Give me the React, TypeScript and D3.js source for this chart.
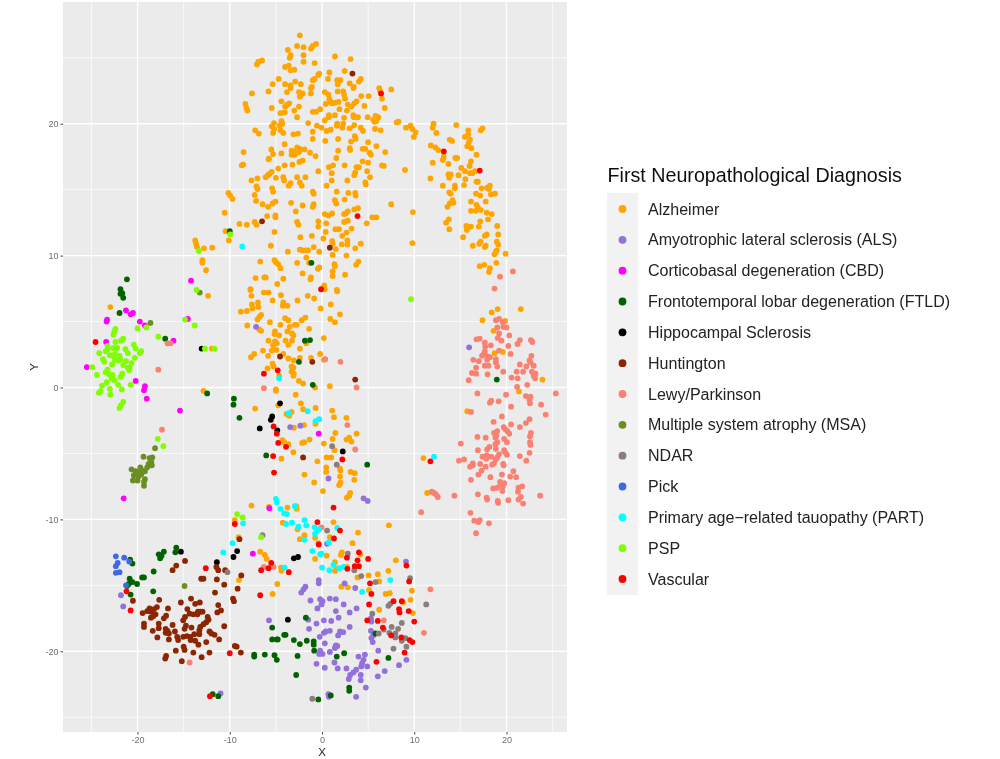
import { useEffect, useRef } from "react"
import * as d3 from "d3"

type Pt = [number, number]

const WIDTH = 1000
const HEIGHT = 759
const MARGIN = { top: 2, right: 433, bottom: 27, left: 63 }

const xTicks = [-20, -10, 0, 10, 20]
const yTicks = [-20, -10, 0, 10, 20]
const xMinor = [-25, -15, -5, 5, 15, 25]
const yMinor = [-25, -15, -5, 5, 15, 25]

const alzheimer: Pt[] = [
  [-2.4,26.7],[-2.7,25.9],[-2,25.8],[-1.2,25.7],[-1,25.9],[-0.65,26.05],[-3.7,25.6],[-3.4,25.2],[-3.5,25],[-2,25.2],[-2,24.7],[1.4,25.1],[3.1,24.9],
  [-6.5,24.8],[-6.9,24.7],[-7.05,24.5],[-0.8,24.6],[-4,24.3],[-3.6,24.4],[-3,24.1],[-3.4,24.05],[-0.3,23.8],[-0.4,23.7],[0.8,23.9],[2.45,24],[4.2,23.4],
  [-4.7,23.4],[-5.35,23],[-4,23],[-2.9,23.2],[-2.3,23],[-0.8,23.4],[-1,23.3],[0.65,23.4],[1.65,23.3],[2,23.3],[1.7,23],[3,23.05],[4,23.2],[3.45,22.8],[3.4,22.7],
  [-3.4,22.9],[-3.4,22.7],[-1.1,22.8],[-1.2,22.7],[-5.8,22.45],[-7.6,22.3],[-3.8,22.4],[-2.5,22.4],[-2.1,22.3],[-2.3,22.2],[-2.4,22.05],[-1.2,22.3],[0.3,22.4],[0.7,22.2],
  [1.7,22.45],[2.3,22.45],[2.4,22.2],[2.5,21.9],[4.25,22.1],[5.05,22.1],[6.2,22.7],[6.3,22.5],[6.5,21.9],[7.5,22.6],[-4.4,21.7],[0.8,21.85],[0.9,21.65],[0.4,21.5],
  [1.1,21.55],[1.4,21.6],[1.8,21.65],[3.75,21.7],[3.5,21.55],[2.8,21.45],[3.2,21.3],[4.6,21.35],[-3.55,21.55],[-3.8,21.45],[-4,21.3],[-2.5,21.3],[-8.3,21.5],[-8.2,21.2],[-8.1,21],
  [-5.45,21.2],[-3,21],[-1,20.9],[-0.65,20.9],[-0.2,21.1],[1.9,21.1],[2.7,21],[6.8,21.2],[-4.5,20.8],[-4.05,20.85],[-2.7,20.5],[0.75,20.65],[0.7,20.5],[1.4,20.65],[0.3,20.25],
  [2.4,20.45],[3.4,20.65],[3.45,20.5],[3.9,20.5],[4.95,20.5],[6.1,20.5],[5.8,20.6],[5.55,20.3],[5.9,20.2],[5.7,20.15],[8.1,20.1],[8.3,20.15],[-5.2,20.05],[-4.4,20.2],[-4.3,20],
  [-5.45,19.8],[-4.6,19.85],[-5.2,19.6],[-5.3,19.3],[-4.5,19.5],[-4.2,19.3],[-1.5,20.05],[-0.55,19.85],[-0.05,19.7],[0.5,19.45],[0.95,19.55],[1.65,20],[2.3,20],[2.2,19.7],[1.6,19.85],
  [3.5,19.9],[3,19.65],[4.2,19.7],[4.45,19.45],[5.75,19.6],[6.35,19.5],[9.1,19.7],[9.6,19.85],[9.8,19.6],[10.15,19.35],[9.95,19],[12.1,20],[12,19.7],[12.4,19.3],[14.55,19.9],
  [17.4,19.65],[17.2,19.5],[15.85,19.5],[15.85,19.2],[15.5,19],[16.05,18.8],[15.9,18.55],[15.75,18.3],[16.2,18.15],[13.85,18.8],[14.1,18.7],[11.8,18.35],[12.3,18.2],[12.6,18],
  [16.75,17.65],[-7.25,19.5],[-6.85,19.25],[-3.1,19.2],[-2.6,19.25],[-1,19.4],[-1,18.85],[0.35,18.7],[1.75,18.85],[3.55,19.05],[3.65,18.85],[3.15,18.65],[5,18.6],[-4.05,18.45],[5.9,18.3],
  [-5.5,18.05],[-8.5,17.85],[-5.3,17.7],[-4.4,17.75],[-3.3,17.95],[-2.7,18.2],[-2.4,18.1],[-1.9,18.05],[-2.75,17.95],[-3.3,17.65],[-2.95,17.65],[-2.5,17.85],[-1.3,17.8],[-0.7,17.55],
  [1.75,17.95],[3,18.15],[3.05,18],[4.4,18.1],[4.7,18.1],[5.15,17.8],[5.3,17.65],[6.85,17.85],[1.55,17.4],[-5.75,17.35],[-5.8,17.3],[13.2,17.5],[13.1,17.25],[14.45,17.4],[14.65,17.4],
  [16.15,17.15],[12,17.05],[13.7,16.95],[-2.45,17.1],[-2.1,17.2],[-3.2,16.9],[-4.05,16.85],[-4.75,16.6],[-8.55,16.9],[-8.7,16.85],[0.75,16.7],[1.2,16.85],[2.45,16.85],[4.4,17.15],[5,17.05],
  [3.75,16.7],[4,16.7],[4.9,16.4],[6.5,16.85],[6.7,16.8],[9,16.5],[15.1,16.65],[15.5,16.4],[16.05,16.25],[16.3,16.25],[16.6,16.4],[16,16.8],[-0.4,16.4],[1.05,16.25],[3.6,16.3],[3.5,16.1],
  [5.2,15.95],[-5.45,16.35],[-5.7,16.2],[-5.85,16.1],[-6.1,15.95],[-7,15.85],[-7.65,15.7],[-5,15.9],[-4.2,15.95],[-4.1,15.7],[-2.7,15.95],[-1.8,15.95],[1.05,15.7],[2.75,15.7],[-2.4,15.55],[-2.2,15.3],
  [-3.4,15.5],[-3.6,15.3],[0.5,15.3],[4.7,15.55],[4.75,15.4],[11.75,15.85],[13.7,16.15],[13.95,16.15],[13.8,15.9],[14.8,16.1],[15.55,15.8],[15.4,15.35],[13.1,15.3],[14.4,15.3],[14.4,15.1],
  [16.75,15.6],[16.9,15.6],[17.3,15.1],[17.9,15.15],[18.2,15.3],[18.1,15.05],[-7.1,15.25],[-7,15.05],[-5.4,15.1],[-5.3,14.85],[-10.15,14.75],[-9.95,14.55],[-9.7,14.3],[-7.3,14.6],[-7.15,14.15],
  [-6.45,13.9],[-5.85,13.7],[-5.35,13.95],[-5.05,14.1],[-3.35,14],[-2.1,13.8],[-1,14.85],[-0.9,14.7],[1.6,14.85],[2.85,14.75],[3.6,14.75],[3.65,14.55],[2.45,14.25],[1.4,14.2],[1.55,13.95],
  [-0.9,13.9],[-1,13.7],[7.5,13.9],[13.8,14.8],[13.95,14.7],[16.7,14.7],[17.15,14.55],[18.3,14.65],[18.75,14.7],[17.75,14.1],[16.15,14.1],[14.15,14.2],[14.25,14],[13.85,13.95],[13.6,13.7],
  [16.75,13.85],[16.9,13.65],[16.15,13.4],[16.65,13.4],[17.2,13.45],[17.85,13.25],[18.4,13.15],[18,12.75],[-10.55,13.25],[-2.85,13.35],[-5.95,13],[-5.05,13.05],[-5.05,12.9],[-2.7,12.55],[-2.55,12.35],
  [-0.4,12.6],[-0.4,12.2],[0.3,13.15],[0.7,13.05],[1.1,13.2],[0.45,12.45],[2.4,13.15],[2.8,13.35],[2.55,13.2],[3.5,13.5],[3.9,13.6],[2.4,12.55],[2.8,12.65],[5.45,12.9],[5.9,12.9],[4.85,12.45],
  [9.85,13.3],[-8.95,12.4],[-8.15,12.35],[-7.3,12.55],[-7.1,12.35],[-10.45,11.85],[-10.1,11.15],[-5.15,11.8],[-2.35,11.4],[-1.1,11.5],[0.15,11.3],[0.4,11.8],[1.45,12],[1.85,12],[3.2,12.05],
  [2.65,11.75],[2.2,11.5],[1.1,11.1],[1.15,10.9],[2.75,11.15],[2.75,10.85],[2.15,10.85],[4.2,10.9],[3.6,10.55],[1.5,10.5],[-5.55,10.75],[-3.7,10.3],[-2.4,10.45],[-2.1,10.4],[-1.75,10.4],[-1.5,10.4],
  [-0.9,10.65],[-0.3,10.3],[1.15,10.05],[2.65,10],[-1.7,9.85],[-6.7,9.55],[-5.15,9.65],[-5,9.5],[-4.75,9.35],[-4.5,9.05],[-2.7,9.45],[-1.4,9.45],[1.35,9.35],[1.4,9.2],[1.15,8.8],[1.15,8.45],
  [3.95,9.55],[3.7,9.3],[-0.3,9.1],[-0.45,9],[-2.1,8.65],[-1.2,8.35],[-1.25,8.2],[2.5,8.55],[-7.2,8.3],[-6.25,8.35],[-6.1,8.35],[-4.2,8.25],[-4.85,7.85],[-7.75,7.45],[0.25,7.75],[1.6,7.4],
  [9.8,10.95],[13.8,12],[13.75,12.75],[13.45,12.5],[15.65,12.25],[15.85,12.15],[16.15,12.2],[15.7,11.95],[17.15,12.6],[17,12.2],[19,12.25],[19.1,11.6],[17.85,11.6],[17.65,11.5],[15.3,11.4],
  [17.2,11.05],[17.05,10.9],[16.35,10.75],[17.75,10.75],[17.65,10.65],[18.95,11.05],[19.1,10.85],[18.95,10.4],[18.7,10.1],[18.85,10.3],[19.9,10.15],[18.9,9.45],[17.1,9.2],[17.6,9.3],[18.2,9.05],[18.1,8.75],
  [-13.75,11.15],[-13.65,10.9],[-13.55,10.65],[-12.8,10.55],[-11.9,10.6],[-12.97,9.65],[-12.97,9.45],[-12.57,8.9],[-12.35,6.95],[-22.95,6.1],[-11.95,2.95],[-12.85,-0.25],
  [-7.75,7.4],[-7.65,6.95],[-7.6,6.3],[-7.55,6],[-6.95,6.45],[-6.9,6.1],[-8.8,5.75],[-8.15,5.8],[-6.6,5.5],[-6.8,5.35],[-7,5.15],[-8.1,4.7],[-6.8,4.4],[-6.6,4.3],[-6.3,7.2],[-5.8,7.2],[-5.35,6.6],[-4.45,7],
  [-4.2,6.45],[-4.25,6.2],[-3.75,6.2],[-2.65,6.6],[-1.55,6.95],[-0.85,6.75],[0.3,7.45],[1.65,7.3],[0.95,6.3],[-0.15,6],[1.95,5.55],[0.9,5.2],[1.4,4.95],[-5.65,4.95],[-4,5.25],[-3.65,5.1],[-4.5,4.75],
  [-3.5,4.6],[-2.95,4.75],[-2.75,4.75],[-2.2,5.1],[-1.8,5.3],[-1.4,4.45],[-5.1,4.25],[-5.15,4.05],[-4.65,3.95],[-3.75,4.25],[-3.25,4.1],[-3.1,3.95],[-5.8,3.55],[-5.1,3.5],[-4.9,3.35],[-5.3,3.2],
  [-3.95,3.55],[-3.65,3.25],[-3.25,3.55],[0.2,3.75],[-1.7,3.35],[-2.4,2.95],[-6.4,2.8],[-5.45,2.8],[-4.95,2.85],[-4.2,2.55],[-7.35,2.55],[-7.7,2.3],[-5.85,2.4],[-3.65,2.2],[-3.05,2.05],[-2.4,2.25],
  [-1.2,2.25],[-0.2,2.55],[0.2,2.1],[-5.35,1.8],[-5.25,1.6],[-5.9,1.45],[-3.3,1.6],[-3.1,1.5],[-3.3,1.2],[-3.05,1.05],[-3.1,0.9],[-4.65,0.9],[-2.5,0.5],[-2.05,0.3],[-0.75,0],[0.85,0.1],[-5,-0.15],[-5,-0.25],
  [-2.85,-0.55],[-2.3,-1.2],[-4.75,-1.35],[-7.25,-1.6],[-2.05,-1.65],[-0.7,-1.55],[1.1,-1.75],[1.3,-2.25],[2.65,-2.3],[-3.85,-2],[-3.3,-1.85],[-3.55,-2.15],[-3.05,-3.05],[-1.95,-2.85],[-0.7,-2.75],
  [1.45,-3.45],[3.75,-3.5],[2.65,-3.95],[2.95,-3.8],[3.2,-4.1],[-1.35,-3.95],[-1.95,-4.15],[-2.15,-4.2],[1.15,-3.9],[0.2,-4.25],[-4.3,-4],[-4.1,-4.15],[-3.65,-4.3],[1.35,-4.75],[-3.1,-4.9],[0.5,-5.3],[1,-5.3],
  [-4.4,-5.4],[-0.5,-5.6],[0.45,-6.05],[0.45,-6.4],[1.95,-6.15],[2,-6.3],[3.1,-6.4],[3.55,-6.5],[-1.9,-6.6],[1.95,-6.75],[3.5,-7],[-0.85,-7.2],[2,-7.2],[1.85,-7.4],[0.1,-7.85],[3.05,-8],[2.95,-8.2],[2.7,-8.35],
  [-7.65,-8.95],[-5.75,-9.05],[-3.75,-9.1],[-2.8,-9],[-2.75,-9.2],[-9.45,-10.05],[-4.25,-10.25],[-2.65,-10.75],[-1.9,-11.2],[-2.4,-11.5],[-0.75,-11.4],[-0.4,-11.8],[1.25,-10.2],[0.85,-11.35],[3.9,-11],[3.3,-11.8],
  [7.25,-10.45],[-9.05,-11.35],[-6.7,-12.45],[-6.2,-12.7],[-6,-13],[-4.45,-13.65],[-4.4,-13.9],[-0.75,-13],[0.5,-12.75],[2.15,-12.5],[2.05,-12.7],[4.15,-12.65],[1.4,-13.25],[1.6,-13.75],[1.4,-13.9],[2.7,-13.6],
  [8,-13.1],[7.2,-13.9],[5.05,-14.25],[6.05,-14.15],[3.85,-14.4],[6.2,-14.7],[2.1,-15.1],[2.8,-15.15],[5.1,-15.35],[6.9,-15.65],[7.35,-15.6],[9.75,-15.4],[9.6,-16.1],[8.8,-16.3],[6.2,-16.85],[9.85,-17.1],
  [-4.85,-14.9],[-5.35,-15.65],[-9,-14.6],
  [19.05,5.95],[18.4,5.7],[21.55,5.95],[17.4,5.1],[19.85,5.05],[18.6,4.3],[18.7,2.6],[19.6,2.7],[23.9,0.6],[21.35,-0.3],[15.75,-1.8],[11,-5.35],[11.4,-8],
]

const als: Pt[] = [
  [9.1,-13.2],[2.45,-14.85],[3.6,-15.2],[-0.35,-14.6],[-0.35,-14.85],[-1.8,-15.1],[-2,-15.3],[-2.25,-15.55],[-1.25,-16.15],[-0.2,-16.05],[0.05,-16.2],[-0.05,-16.45],[0.85,-16],[1.5,-16.05],[2.35,-16.45],
  [-0.5,-16.75],[1.5,-16.95],[3,-17.05],[3.75,-16.75],[1.8,-17.45],[1,-17.7],[0.2,-17.65],[-1.5,-17.6],[-5.75,-17.65],[-0.6,-17.9],[5.3,-17.5],[5.35,-17.75],[3,-18.15],[-1.4,-18.3],[0.85,-18.45],[0.4,-18.5],
  [0.2,-18.6],[1.95,-18.5],[2.3,-18.55],[1.75,-18.8],[-0.25,-18.9],[5.3,-18.45],[5.55,-18.8],[5.35,-19],[5.5,-19.3],[0.3,-19.4],[1.5,-19.55],[1.4,-19.75],[1.65,-19.6],[0.85,-20.05],[-0.2,-19.95],[-0.3,-20.2],
  [0.05,-20.2],[6.1,-19.95],[3.95,-20.4],[4.65,-20.25],[4.5,-20.65],[4.35,-20.9],[4.25,-21.15],[4.9,-21.15],[1.35,-20.85],[-0.6,-20.95],[0.3,-21.25],[1.7,-21.3],[2.65,-21.3],[9.15,-20.65],[8.35,-21.05],[6.8,-21.5],
  [3.7,-21.4],[3.4,-21.6],[3.05,-21.8],[4.2,-21.8],[2.9,-22.1],[6.05,-21.9],[4.2,-22.2],[4.75,-22.75],[0.7,-23.25],[0.75,-23.45],[3.7,-23.45],[-11,-23.2],[0.55,-11.85],
  [-7.15,4.6],[-3.45,-3],[-2.35,-2.9],[0.7,-6.9],[4.5,-8.4],[4.95,-8.6],[15.95,3.05],[-21.8,-15.75],[-21.55,-16.6],
]

const cbd: Pt[] = [
  [-14.2,8.1],[-14.55,5.2],[-21.25,5.85],[-20.75,5.55],[-20.5,5.65],[-23.3,5.15],[-23.35,5],[-19.75,5],[-19.2,4.7],[-23.4,3.45],[-16.1,3.55],[-25.5,1.55],[-20.2,0.5],[-19.2,0.1],[-19.3,-0.2],[-19,-0.85],
  [-15.4,-1.75],[-21.5,-8.4],[-7.5,-12.6],[-5.7,-9.15],[-0.35,-3.5],
]

const ftld: Pt[] = [
  [-21.15,8.2],[-21.85,7.45],[-21.65,7.15],[-21.85,7.1],[-21.55,6.8],[-21.95,5.65],[-17,3.7],[-12.45,-0.45],[-9.55,-0.85],[-9.6,-1.3],[-8.95,-2.3],[-10,11.85],[-1.15,9.45],[-1.85,3.55],[-1.3,3.6],[-2.5,1.95],[-1,0.2],
  [-6.05,-5.15],[4.9,-5.85],[18.95,0.6],[-15.8,-12.15],[-15.9,-12.5],[-17.7,-12.65],[-17.15,-12.45],[-17.55,-12.95],[-17.4,-12.75],[-20.8,-13.05],[-20.55,-13.35],[-18.25,-13.95],[-19.5,-14.4],[-19.3,-14.4],
  [-20.85,-14.5],[-20.55,-14.75],[-20.95,-14.9],[-21.15,-15.05],[-20.05,-14.9],[-18.3,-15.45],[-20.75,-15.7],[-11.85,-23.25],[-11.25,-23.4],[-1.75,-17.45],[-5.4,-18.2],[-5.4,-19.1],[-4.9,-19.1],[-4.8,-19.1],
  [-4.1,-18.75],[-3.95,-18.75],[-3.05,-19.15],[-2.4,-19.45],[-1.65,-19.2],[-0.9,-19.25],[-0.9,-19.5],[-0.85,-19.95],[-7.35,-20.25],[-7.35,-20.4],[-6.2,-20.25],[-5.15,-20.3],[-4.9,-20.65],[-2.65,-20.35],[-2.8,-21.8],
  [1.6,-20.4],[2.4,-20.15],[7.2,-20.5],[2.95,-22.75],[2.95,-23],[-0.4,-23.65],[0.95,-23.35],[5.8,-18.65],
]

const hippocampal: Pt[] = [
  [-13.05,2.95],[-4.55,-1.2],[-5.4,-2.2],[-5.55,-2.45],[-6.75,-3.1],[-4.85,-3.25],[2.25,-4.85],[-9.6,-12.85],[-9.2,-12.4],[-3.05,-12.95],[-2.6,-12.85],[-3.7,-17.6],[-15.3,-12.45],[-11.4,-13.25],
]

const huntington: Pt[] = [
  [3.3,23.8],[-6.5,12.6],[0.85,10.6],[-4.55,2.35],[-1.05,1.95],[3.6,0.6],[-2.05,-5.3],[-8.95,-11.5],
  [-14.85,-13.15],[-15.8,-13.5],[-16.2,-13.85],[-20.5,-16.17],[-17.65,-16.1],[-11.45,-13.6],[-11.25,-13.85],[-10.5,-13.85],[-8.75,-14.25],[-13.1,-14.5],[-12.85,-14.5],[-11.4,-14.55],[-10.6,-14.95],[-9.15,-15.25],
  [-11.6,-15.55],[-9.65,-16],[-9.55,-16.2],[-14.2,-16],[-13.25,-16.3],[-13.75,-16.4],[-15.3,-16.3],[-11.25,-16.5],[-10.95,-16.9],[-11.35,-17.05],[-17.9,-16.65],[-18.2,-16.8],[-18.7,-16.75],[-18.95,-16.95],
  [-19.45,-17.1],[-18.55,-17],[-18.05,-17.2],[-18.55,-17.45],[-18.3,-17.35],[-16.7,-16.75],[-14.6,-16.8],[-14.35,-17.15],[-13.95,-17.2],[-13.5,-17.2],[-13.2,-17],[-12.95,-17],[-13.45,-17],[-16.9,-17.3],[-17.15,-17.5],
  [-14.85,-17.4],[-15.05,-17.65],[-12.4,-17.4],[-12.3,-17.6],[-12.55,-17.8],[-19.3,-17.9],[-19.3,-18.15],[-17.7,-17.9],[-17.7,-18.25],[-16.2,-18],[-14.75,-18.05],[-14.9,-18.3],[-14.15,-18.2],[-12.85,-17.95],[-13.2,-18.15],
  [-13.3,-18.4],[-10.6,-18.1],[-18.35,-18.45],[-16.95,-18.3],[-16.75,-18.45],[-16.95,-18.6],[-16.6,-18.65],[-15.95,-18.5],[-15.05,-18.9],[-14.65,-18.85],[-14.25,-18.9],[-13.85,-18.7],[-13.3,-18.7],[-12.2,-18.5],
  [-12,-18.65],[-11.65,-18.75],[-17.85,-18.95],[-16.6,-19.1],[-15.7,-18.9],[-15.6,-19.15],[-14.25,-19.15],[-13.75,-19.2],[-13.4,-19.5],[-12.55,-19.3],[-11.15,-19.1],[-15,-19.65],[-14.9,-19.9],[-15.85,-19.95],
  [-13.95,-20.1],[-12.2,-20.1],[-16.9,-20.35],[-17,-20.55],[-15.2,-20.75],[-13.05,-20.45],[-9.45,-19.6],[-9.25,-19.65],[-8.8,-20.1],
]

const lewy: Pt[] = [
  [19.3,8.4],[20.7,8.8],[18.7,7.5],[18.85,5.1],[19.2,5.2],[19.6,4.95],[19.65,4.6],[20,4.55],[19,4.55],[19.2,4.1],[20.3,3.95],[19.05,3.75],[19.45,3.55],[16.75,3.65],[17.1,3.7],[17.65,3.4],[17.7,3.1],[18.3,3.2],
  [20.2,3.15],[21.2,3.3],[21.45,3.6],[22.65,3.6],[22.8,3.45],[19.2,2.8],[20.45,2.55],[17.65,2.75],[17.5,2.5],[17.35,2.4],[17.95,2.35],[18.2,2.3],[17.9,2.1],[18.85,2.15],[18.85,1.9],[16.4,2.1],[17,2],
  [22.7,2.4],[22.5,2.05],[22.6,1.9],[22.95,1.65],[21.45,1.75],[22.15,1.6],[17.65,1.65],[18.05,1.65],[19,1.6],[16.7,1.5],[19.65,1.2],[21.1,1.2],[21.8,1.2],[22.75,1.2],[23.15,1.05],[22.95,0.9],[23.1,0.7],
  [16.25,1.1],[16.7,1.05],[17.95,1],[20.55,0.75],[21.2,0.7],[15.9,0.55],[22.25,0.2],[21.15,0.05],[16.85,-0.45],[19.95,-0.55],[22.1,-0.65],[22.6,-0.7],[22.5,-0.95],[22.55,-1.2],[25.35,-0.45],[18.35,-1],[18.2,-1.15],[19.15,-1.05],
  [23.75,-1.3],[20.5,-1.45],[16.15,-1.85],[24.25,-2.05],[19.5,-2.2],[22.5,-2.4],[18.6,-2.6],[22.1,-2.7],[20.5,-2.8],[21.45,-3],[19.7,-3],[19.85,-3.15],[20.1,-3.3],[20.3,-3.5],[19,-3.3],[18.65,-3.45],[18.9,-3.65],[18.8,-3.8],
  [22.65,-3.45],[22.55,-3.7],[16.85,-3.75],[17.75,-3.8],[19.75,-3.9],[20.05,-4.15],[15.05,-4.25],[19,-4.15],[18.8,-4.3],[22.55,-4.15],[22.6,-4.35],[18.15,-4.5],[17.9,-4.7],[18.85,-4.65],[16.9,-4.75],[19.75,-4.75],[19.85,-4.9],
  [20.05,-5.1],[22.5,-4.95],[21.45,-5.2],[19.2,-5.05],[19,-5.3],[18.85,-5.45],[17.85,-5.15],[17.4,-5.25],[17.8,-5.4],[18.35,-5.25],[14.85,-5.55],[15.4,-5.45],[22.15,-5.55],[16.35,-5.75],[16.05,-6],[16.35,-5.9],[17.15,-5.8],
  [17.75,-6],[18.45,-5.85],[18.65,-5.75],[19.65,-5.8],[19.7,-5.9],[17.3,-6.3],[16.95,-6.6],[20.75,-6.35],[19.5,-6.6],[20.4,-6.75],[21.05,-6.8],[18.25,-6.8],[16.15,-7],[19.3,-7.15],[19.75,-7.25],[19.35,-7.4],[19.6,-7.5],
  [19,-7.6],[18.55,-7.65],[19.55,-7.85],[21.7,-7.5],[21.3,-7.6],[21.25,-7.9],[14.35,-8.2],[16.9,-8.1],[17.85,-8.35],[17.9,-8.5],[19.05,-8.6],[19.1,-8.75],[20.2,-8.55],[21.55,-8.3],[21.3,-8.5],[21.8,-8.8],[23.65,-8.2],
  [11.9,-7.9],[12.15,-8],[12.35,-8.1],[12.55,-8.3],[10.75,-9.45],[16.1,-9.5],[16.5,-10.1],[16.95,-10.2],[17.1,-10.05],[18.1,-10.3],[16.7,-11.05],
  [11.75,-15.3],[11.05,-18.6],[6.7,-17.65],[-0.05,-10.6],[-5.25,-13.6],[-6.3,-13.6],[-14.35,-20.85],[-6.3,-0.05],[0.35,2.15],[2,1.95],[3.75,0],[2.75,-2.85],[3.6,-4.7],[-17.75,1.35],[-17.35,-3.2],[-16.75,3.35],[-16.4,3.35],
]

const msa: Pt[] = [
  [-18.6,4.9],[-13.25,7.2],[-18.1,-4.6],[-19.35,-5.25],[-18.7,-5.35],[-18.4,-5.3],[-18.5,-5.65],[-18.8,-5.8],[-18.45,-5.9],[-18.95,-6.05],[-19.7,-6.05],[-20.65,-6.2],[-19.6,-6.25],[-20.2,-6.35],[-20,-6.5],[-19.2,-6.35],
  [-20.4,-6.65],[-19.6,-6.6],[-19.9,-6.75],[-20.5,-7.05],[-20,-7.05],[-19.2,-6.95],[-19.3,-7.15],[-19.3,-7.45],[-14.9,-15.05],
]

const ndar: Pt[] = [
  [-6.45,-11.2],[0.55,-10.85],[2.8,-12.6],[3.5,-13.85],[4.25,-14.3],[5.8,-14.75],[9.55,-14.45],[7.2,-16.55],[7.4,-16.4],[5.45,-17.15],[11.3,-16.45],[8.65,-17.85],[6.7,-18.35],[7.55,-18.15],[8.25,-18.3],[7.3,-18.6],
  [7.95,-18.65],[6.15,-18.65],[7.95,-18.95],[8.65,-19.2],[9.05,-19],[9.15,-19.65],[7.75,-19.8],[-1.05,-23.6],[-10.25,-14],[1.1,-4.45],[1.6,-5.85],
]

const pick: Pt[] = [
  [-22.35,-12.8],[-21.45,-12.9],[-20.9,-13.2],[-22.15,-13.3],[-22.35,-13.55],[-21.95,-14],[-22.35,-14.05],[-21.25,-15],
]

const part: Pt[] = [
  [-5,-8.45],[-4.9,-8.7],[-4.5,-9.2],[-4.1,-9.55],[-3.8,-9.6],[-2.95,-9],[-3.9,-10.35],[-3.25,-10.25],[-2.55,-10.55],[-1.9,-10.05],[-1.7,-10.45],[-0.8,-10.6],[-0.3,-10.75],[-0.55,-10.85],[-0.75,-11.1],[1.65,-10.65],
  [-1.9,-11.55],[0.75,-11.75],[-1.05,-12.4],[-0.2,-12.65],[-0.05,-12.6],[-8.55,-10.3],[-9.7,-11.8],[-10.7,-12.5],[-4.05,-13.65],[0,-13.65],[0.8,-13.85],[1.85,-13.7],[2.35,-13.6],[1.25,-13.45],[7.4,-14.6],[4.35,-15.5],
  [-4.65,0.7],[-3.6,-1.95],[-1.55,-1.8],[-0.3,-2.4],[-0.7,-2.55],[12.15,-5.25],[-8.65,10.7],
]

const psp: Pt[] = [
  [-22.4,4.45],[-22.5,4.25],[-22.6,4],[-20,4.5],[-19.05,4.55],[-17.75,3.85],[-21.55,3.7],[-21.8,3.55],[-22.4,3.45],[-20.4,3.25],[-20.2,2.95],[-23.25,3.15],[-23.2,2.95],[-22.6,3],[-22.2,3],[-21.3,2.9],[-23.45,2.75],[-24.15,2.6],
  [-21.05,2.6],[-19.6,2.75],[-19.75,2.6],[-23,2.45],[-22.7,2.4],[-22.45,2.55],[-21.95,2.4],[-21.85,2.15],[-20.3,2.25],[-23.75,2.15],[-23.6,1.95],[-22.45,2.1],[-22.05,2.05],[-21.25,2],[-22.75,1.75],[-21.55,1.7],[-20.65,1.85],
  [-20.85,1.5],[-21.05,1.5],[-20.9,1.3],[-24.9,1.55],[-23.25,1.35],[-23.45,1.15],[-21.65,1.05],[-24.4,0.95],[-23.1,1],[-22.7,0.95],[-22.8,0.7],[-21.85,0.8],[-22.5,0.55],[-23.35,0.4],[-22.1,0.2],[-20.75,0.2],[-23.85,0.15],
  [-23,-0.1],[-21.7,-0.15],[-24,-0.25],[-24.2,-0.4],[-22.95,-0.55],[-21.55,-1.1],[-21.8,-1.35],[-21.95,-1.55],[-13.8,4.7],[-14.85,5.15],[-12.7,2.95],[-11.65,2.95],[-13.6,7.4],[-17.8,-3.9],[-17.2,-4.45],[-13.35,10.35],
  [-9.2,-9.6],[-8.6,-9.85],[-6.6,-11.35],[-9.95,11.6],[9.65,6.7],
]

const vascular: Pt[] = [
  [1.25,-9.1],[-0.5,-10.2],[1.95,-10.85],[1.3,-11.45],[-0.35,-11.9],[-9.45,-10.35],[-5.5,-13.3],[-5.8,-13.7],[-6.6,-13.85],[-3.6,-14],[-6.7,-15.75],[4,-12.5],[2.7,-12.9],[3.85,-13.1],[5,-13],[3.55,-13.55],[4,-13.55],[2.75,-13.75],
  [9.15,-13.5],[9.45,-14.7],[5.2,-14.85],[5.35,-15.65],[7.75,-16.2],[8.65,-16.2],[5.1,-16.45],[8.35,-16.8],[8.4,-17.05],[9.4,-16.95],[4.9,-17.65],[6.05,-17.7],[10,-17.75],[6.6,-18.2],[7.5,-18.8],[8.6,-18.95],[9.5,-19.15],
  [9.8,-19.3],[8.95,-20.1],[5.9,-20.8],[-10,-20.15],[-0.1,7.45],[-6.3,1.05],[-4.8,1.3],[-5.25,-2.95],[-4.9,-3.5],[-4.75,-4.2],[-3.9,-4.5],[-5.3,-5.2],[-5.2,-6.45],[2.2,-5.45],[3.85,13],[13.2,17.9],[17.1,16.45],[6.4,22.3],
  [-24.55,3.45],[11.75,-5.6],[-12.6,-13.7],[-21.2,-15.45],[-20.75,-16.9],[-12.15,-23.4],
]

const diagnoses = [
  "Alzheimer",
  "Amyotrophic lateral sclerosis (ALS)",
  "Corticobasal degeneration (CBD)",
  "Frontotemporal lobar degeneration (FTLD)",
  "Hippocampal Sclerosis",
  "Huntington",
  "Lewy/Parkinson",
  "Multiple system atrophy (MSA)",
  "NDAR",
  "Pick",
  "Primary age\u2212related tauopathy (PART)",
  "PSP",
  "Vascular",
]

const colors = ["#ffa500", "#9370db", "#ff00ff", "#006400", "#000000", "#8b2500", "#fa8072", "#6b8e23", "#8b7d7b", "#4169e1", "#00ffff", "#7fff00", "#ff0000"]

const series = [alzheimer, als, cbd, ftld, hippocampal, huntington, lewy, msa, ndar, pick, part, psp, vascular]

export default function App() {
  const svgRef = useRef<SVGSVGElement>(null)

  useEffect(() => {
    if (!svgRef.current) return

    const svg = d3.select(svgRef.current)
    svg.selectAll("*").remove()

    const w = WIDTH - MARGIN.left - MARGIN.right
    const h = HEIGHT - MARGIN.top - MARGIN.bottom

    const soft = svg.append("defs").append("filter").attr("id", "soft")
    soft.append("feGaussianBlur").attr("stdDeviation", 0.4)

    const root = svg.append("g").attr("filter", "url(#soft)")
    root.append("rect").attr("width", WIDTH).attr("height", HEIGHT).attr("fill", "#fff")

    const g = root.append("g").attr("transform", `translate(${MARGIN.left},${MARGIN.top})`)

    const x = d3.scaleLinear().domain([-28.08, 26.56]).range([0, w])
    const y = d3.scaleLinear().domain([-26.12, 29.23]).range([h, 0])

    g.append("rect").attr("width", w).attr("height", h).attr("fill", "#ebebeb")

    // grid
    g.selectAll(".minor-x").data(xMinor).join("line").attr("x1", (d) => x(d)).attr("x2", (d) => x(d)).attr("y2", h).attr("stroke", "#fff").attr("stroke-width", 0.7)
    g.selectAll(".minor-y").data(yMinor).join("line").attr("y1", (d) => y(d)).attr("y2", (d) => y(d)).attr("x2", w).attr("stroke", "#fff").attr("stroke-width", 0.7)
    g.selectAll(".major-x").data(xTicks).join("line").attr("x1", (d) => x(d)).attr("x2", (d) => x(d)).attr("y2", h).attr("stroke", "#fff").attr("stroke-width", 1.4)
    g.selectAll(".major-y").data(yTicks).join("line").attr("y1", (d) => y(d)).attr("y2", (d) => y(d)).attr("x2", w).attr("stroke", "#fff").attr("stroke-width", 1.4)

    // axes
    const xAxis = g.append("g").attr("transform", `translate(0,${h})`).call(d3.axisBottom(x).tickValues(xTicks).tickSize(2.5).tickPadding(2).tickFormat((d) => String(d)))
    const yAxis = g.append("g").call(d3.axisLeft(y).tickValues(yTicks).tickSize(2.5).tickPadding(2).tickFormat((d) => String(d)))
    for (const axis of [xAxis, yAxis]) {
      axis.select(".domain").remove()
      axis.selectAll("line").attr("stroke", "#444")
      axis.selectAll("text").attr("fill", "#6e6e6e").attr("font-size", 9).attr("font-family", "Liberation Sans")
    }

    root.append("text").attr("x", 322).attr("y", 756).attr("text-anchor", "middle").attr("font-size", 11.5).attr("font-family", "Liberation Sans").attr("fill", "#222").text("X")
    root.append("text").attr("transform", "translate(38,367) rotate(-90)").attr("text-anchor", "middle").attr("font-size", 11.5).attr("font-family", "Liberation Sans").attr("fill", "#222").text("Y")

    // points
    series.forEach((pts, i) => {
      g.append("g").selectAll("circle").data(pts).join("circle")
        .attr("cx", (d) => x(d[0]))
        .attr("cy", (d) => y(d[1]))
        .attr("r", 2.9)
        .attr("fill", colors[i])
    })

    // legend
    const legendY = d3.scalePoint<string>().domain(diagnoses).range([209, 579])
    root.append("text").attr("x", 607.5).attr("y", 182).attr("font-size", 19.7).attr("font-family", "Liberation Sans").attr("fill", "#111").text("First Neuropathological Diagnosis")
    root.append("rect").attr("x", 607).attr("y", 193).attr("width", 31).attr("height", 402).attr("fill", "#f2f2f2")
    const item = root.append("g").selectAll("g").data(diagnoses).join("g").attr("transform", (d) => `translate(0,${legendY(d)})`)
    item.append("circle").attr("cx", 622.5).attr("r", 3.9).attr("fill", (_, i) => colors[i])
    item.append("text").attr("x", 648).attr("y", 5.5).attr("font-size", 16.05).attr("font-family", "Liberation Sans").attr("fill", "#222").text((d) => d)
  }, [])

  return <svg ref={svgRef} width={WIDTH} height={HEIGHT} style={{ position: "absolute", left: 0, top: 0 }} />
}
